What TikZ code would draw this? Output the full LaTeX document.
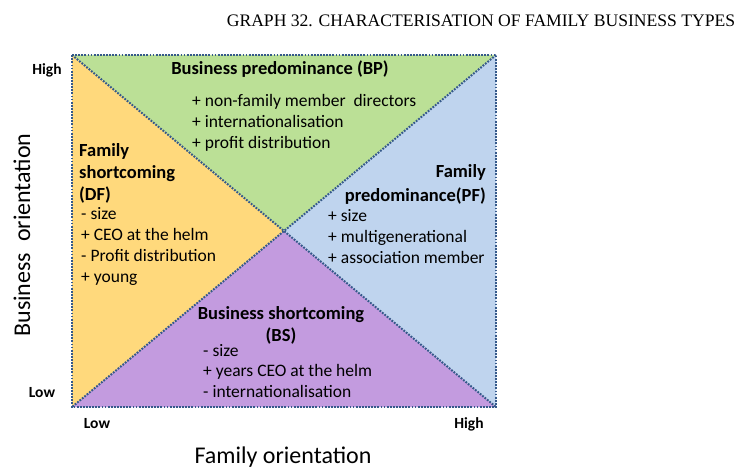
\documentclass[tikz,border=0pt]{standalone}
\usepackage{fontspec}
\setmainfont{Carlito}
\newfontfamily\titlefont{Liberation Serif}
\usetikzlibrary{positioning}
\definecolor{bpgreen}{HTML}{BBE096}
\definecolor{dfyellow}{HTML}{FFD97C}
\definecolor{pfblue}{HTML}{BFD4EE}
\definecolor{bspurple}{HTML}{C39BDF}
\definecolor{dotblue}{HTML}{35598A}
\tikzset{
  quadtext/.style={inner sep=0pt, align=left, font=\fontsize{17.5}{21}\selectfont},
  headtext/.style={inner sep=0pt, font=\fontsize{18.5}{22}\selectfont\bfseries},
  ticklabel/.style={inner sep=0pt, font=\fontsize{15.5}{18}\selectfont\bfseries},
  axistitle/.style={inner sep=0pt, font=\fontsize{24}{28}\selectfont},
  dotline/.style={draw=dotblue, line width=2pt, dash pattern=on 1.8pt off 1.3pt},
}
\begin{document}
\begin{tikzpicture}[x=1pt, y=-1pt]
  \useasboundingbox (0,0) rectangle (735,468);

  % Title
  \node[inner sep=0pt, font=\titlefont\fontsize{17.6}{20}\selectfont] (title) at (481,21)
    {GRAPH 32. CHARACTERISATION OF FAMILY BUSINESS TYPES};

  % Corners and centre
  \coordinate (tl) at (72,55);
  \coordinate (tr) at (496,55);
  \coordinate (br) at (496,407);
  \coordinate (bl) at (72,407);
  \coordinate (mid) at (284,231);

  % Quadrants
  \fill[bpgreen] (tl) -- (tr) -- (mid) -- cycle;
  \fill[dfyellow] (tl) -- (mid) -- (bl) -- cycle;
  \fill[pfblue] (tr) -- (br) -- (mid) -- cycle;
  \fill[bspurple] (bl) -- (mid) -- (br) -- cycle;

  % Dotted edges
  \draw[dotline] (tl) -- (br);
  \draw[dotline] (tr) -- (bl);
  \draw[dotline] (tl) -- (tr) -- (br) -- (bl) -- cycle;

  % Business predominance (base = last line)
  \node[headtext, anchor=base] (bphead) at (280,75) {Business predominance (BP)};
  \node[quadtext, anchor=base west] (bplist) at (192,148)
    {+ non-family member\ \ directors\\+ internationalisation\\+ profit distribution};

  % Family shortcoming
  \node[headtext, align=left, anchor=base west] (dfhead) at (79,200)
    {Family\\shortcoming\\(DF)};
  \node[quadtext, anchor=base west] (dflist) at (81,282)
    {- size\\+ CEO at the helm\\- Profit distribution\\+ young};

  % Family predominance
  \node[headtext, align=right, anchor=base east,
        font=\fontsize{18.5}{23.5}\selectfont\bfseries] (pfhead) at (486,201)
    {Family\\predominance(PF)};
  \node[quadtext, anchor=base west] (pflist) at (328,263)
    {+ size\\+ multigenerational\\+ association member};

  % Business shortcoming
  \node[headtext, align=center, anchor=base] (bshead) at (281,341)
    {Business shortcoming\\(BS)};
  \node[quadtext, anchor=base west, font=\fontsize{17.5}{20.5}\selectfont] (bslist) at (203,397)
    {- size\\+ years CEO at the helm\\- internationalisation};

  % Axes
  \node[ticklabel] (yhigh) at (47,70) {High};
  \node[ticklabel] (ylow) at (42,393) {Low};
  \node[ticklabel] (xlow) at (97,424) {Low};
  \node[ticklabel] (xhigh) at (469,424) {High};
  \node[axistitle, rotate=90] (ytitle) at (22,235) {Business\ \ orientation};
  \node[axistitle] (xtitle) at (283,457) {Family orientation};
\end{tikzpicture}
\end{document}
